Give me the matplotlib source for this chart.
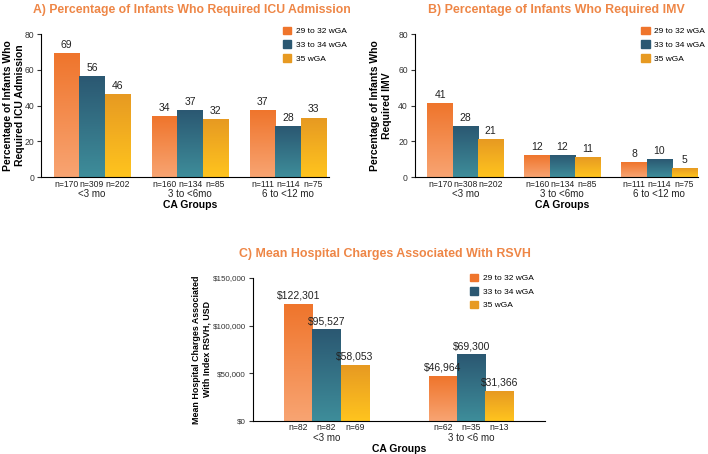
import matplotlib as mpl
mpl.use('Agg')

import numpy as np
import matplotlib.pyplot as plt
from matplotlib.colors import to_rgb
from matplotlib.patches import Rectangle

plt.rcParams['font.family'] = ['Liberation Sans', 'DejaVu Sans']

series = ['29 to 32 wGA', '33 to 34 wGA', '35 wGA']

# A) ICU admission
icu_groups = ['<3 mo', '3 to <6mo', '6 to <12 mo']
icu_vals = [[69, 34, 37], [56, 37, 28], [46, 32, 33]]
icu_n = [['n=170', 'n=160', 'n=111'], ['n=309', 'n=134', 'n=114'], ['n=202', 'n=85', 'n=75']]

# B) IMV
imv_groups = ['<3 mo', '3 to <6mo', '6 to <12 mo']
imv_vals = [[41, 12, 8], [28, 12, 10], [21, 11, 5]]
imv_n = [['n=170', 'n=160', 'n=111'], ['n=308', 'n=134', 'n=114'], ['n=202', 'n=85', 'n=75']]

# C) hospital charges
chg_groups = ['<3 mo', '3 to <6 mo']
chg_vals = [[122301, 46964], [95527, 69300], [58053, 31366]]
chg_n = [['n=82', 'n=62'], ['n=82', 'n=35'], ['n=69', 'n=13']]

# gradient colours (top, bottom) per series
grad = [('#EF752C', '#F8A472'), ('#2B5872', '#3E8D9A'), ('#E79A22', '#FFC41E')]
title_col = '#EE8646'


def gradient_img(top, bottom):
    t = np.array(to_rgb(top))
    b = np.array(to_rgb(bottom))
    f = np.linspace(0, 1, 64)[:, None]
    return (t * (1 - f) + b * f)[:, None, :]


def draw_panel(ax, groups, vals, ns, width, ymax, yticks, ylabel, fmt,
               xlim, leg_anchor, ylab_x, ylab_size=7.5, tick_size=6.2):
    x = np.arange(len(groups))
    for i in range(3):
        pos = x + (i - 1) * width
        bars = ax.bar(pos, vals[i], width, color='none', zorder=2)
        img = gradient_img(*grad[i])
        for b, v, n in zip(bars, vals[i], ns[i]):
            ax.imshow(img, extent=[b.get_x(), b.get_x() + width, 0, v],
                      aspect='auto', zorder=2, interpolation='bicubic')
            ax.text(b.get_x() + width / 2, v + ymax * 0.025, fmt(v),
                    ha='center', va='bottom', fontsize=7.5, color='#222222')
            ax.text(b.get_x() + width / 2, -0.018, n, ha='center', va='top',
                    fontsize=6.2, color='#222222',
                    transform=ax.get_xaxis_transform())
    for xi, g in zip(x, groups):
        ax.text(xi, -0.085, g, ha='center', va='top', fontsize=7,
                color='#222222', transform=ax.get_xaxis_transform())
    ax.text(np.mean(x), -0.16, 'CA Groups',
            ha='center', va='top', fontsize=7.5, fontweight='bold',
            transform=ax.get_xaxis_transform())
    ax.set_xlim(*xlim)
    ax.set_ylim(0, ymax)
    ax.set_yticks(yticks)
    ax.set_xticks([])
    for s in ['top', 'right']:
        ax.spines[s].set_visible(False)
    ax.spines['left'].set_linewidth(0.8)
    ax.spines['bottom'].set_linewidth(0.8)
    ax.tick_params(axis='y', labelsize=tick_size, length=3, width=0.8,
                   colors='#333333', pad=2)
    ax.set_ylabel(ylabel, fontsize=ylab_size, fontweight='bold')
    ax.yaxis.set_label_coords(ylab_x, 0.5)
    handles = [Rectangle((0, 0), 1, 1, color=grad[i][0]) for i in range(3)]
    ax.legend(handles, series, loc='upper left', bbox_to_anchor=leg_anchor,
              frameon=False, fontsize=6, handlelength=1.0, handleheight=1.0,
              labelspacing=0.6, handletextpad=0.5, borderaxespad=0, borderpad=0)


def add_title(fig, ax, text, xc, width_px):
    # shrink title until it spans about the same width as the original
    t = ax.text(xc, 1.17, text, transform=ax.transAxes, ha='center', va='center',
                fontsize=14, fontweight='bold', color=title_col)
    fig.canvas.draw()
    w = t.get_window_extent().width
    t.set_fontsize(14 * width_px / w)


fig = plt.figure(figsize=(7.08, 4.54), dpi=100)

axA = fig.add_axes([0.058, 0.610, 0.407, 0.315])
draw_panel(axA, icu_groups, icu_vals, icu_n, 0.26, 80, [0, 20, 40, 60, 80],
           'Percentage of Infants Who\nRequired ICU Admission',
           lambda v: f'{v}', (-0.52, 2.42), (0.84, 1.05), -0.056)

axB = fig.add_axes([0.586, 0.610, 0.400, 0.315])
draw_panel(axB, imv_groups, imv_vals, imv_n, 0.26, 80, [0, 20, 40, 60, 80],
           'Percentage of Infants Who\nRequired IMV',
           lambda v: f'{v}', (-0.52, 2.40), (0.80, 1.05), -0.081)

axC = fig.add_axes([0.357, 0.073, 0.413, 0.315])
draw_panel(axC, chg_groups, chg_vals, chg_n, 0.195, 150000,
           [0, 50000, 100000, 150000],
           'Mean Hospital Charges Associated\nWith Index RSVH, USD',
           lambda v: f'${v:,}', (-0.51, 1.51), (0.743, 1.03), -0.14,
           ylab_size=6.4, tick_size=5.8)
axC.set_yticklabels(['$0', '$50,000', '$100,000', '$150,000'])

add_title(fig, axA, 'A) Percentage of Infants Who Required ICU Admission', 0.524, 318)
add_title(fig, axB, 'B) Percentage of Infants Who Required IMV', 0.498, 255)
add_title(fig, axC, 'C) Mean Hospital Charges Associated With RSVH', 0.452, 292)

fig.savefig('out.png', dpi=100, facecolor='white')
